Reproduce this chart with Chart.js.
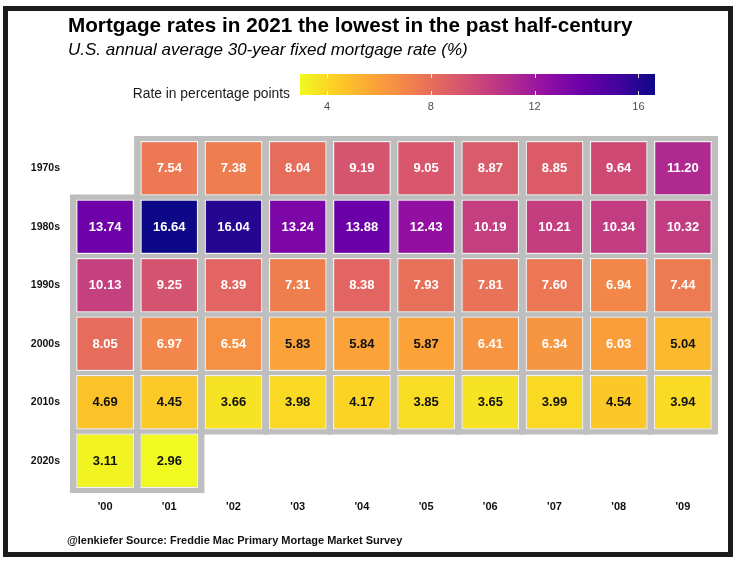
<!DOCTYPE html>
<html>
<head>
<meta charset="utf-8">
<title>Mortgage rates heatmap</title>
<script src="https://cdn.jsdelivr.net/npm/chart.js@4.4.1/dist/chart.umd.min.js"></script>
<style>
  html, body { margin: 0; padding: 0; background: #fff; }
  #wrap { position: absolute; left: 0; top: 0; width: 739px; height: 563px; overflow: hidden; }
  #frame { position: absolute; left: 3px; top: 6px; width: 720px; height: 541px; border: 5px solid #1c1c1c; }
  canvas { position: absolute; left: 0; top: 0; }
  .txt { position: absolute; font-family: "Liberation Sans", Arial, sans-serif; white-space: nowrap; line-height: 1; color: #000; }
  #title { left: 68px; top: 15px; font-size: 20.7px; font-weight: bold; }
  #subtitle { left: 68px; top: 41px; font-size: 17px; font-style: italic; }
  #caption { left: 67px; top: 535px; font-size: 11px; font-weight: bold; color: #111; }
</style>
</head>
<body>
<div id="wrap">
  <div id="frame"></div>
  <canvas id="heatChart" width="739" height="563"></canvas>
  <div class="txt" id="title">Mortgage rates in 2021 the lowest in the past half-century</div>
  <div class="txt" id="subtitle">U.S. annual average 30-year fixed mortgage rate (%)</div>
  <div class="txt" id="caption">@lenkiefer Source: Freddie Mac Primary Mortage Market Survey</div>
</div>
<script>
// Columns (year within decade) and rows (decades)
const years = ["'00", "'01", "'02", "'03", "'04", "'05", "'06", "'07", "'08", "'09"];
const decades = ['1970s', '1980s', '1990s', '2000s', '2010s', '2020s'];

// Annual average 30-year fixed rate, one array per decade
const rates1970s = [null, 7.54, 7.38, 8.04, 9.19, 9.05, 8.87, 8.85, 9.64, 11.20];
const rates1980s = [13.74, 16.64, 16.04, 13.24, 13.88, 12.43, 10.19, 10.21, 10.34, 10.32];
const rates1990s = [10.13, 9.25, 8.39, 7.31, 8.38, 7.93, 7.81, 7.60, 6.94, 7.44];
const rates2000s = [8.05, 6.97, 6.54, 5.83, 5.84, 5.87, 6.41, 6.34, 6.03, 5.04];
const rates2010s = [4.69, 4.45, 3.66, 3.98, 4.17, 3.85, 3.65, 3.99, 4.54, 3.94];
const rates2020s = [3.11, 2.96, null, null, null, null, null, null, null, null];

// Colour bar tick labels
const legendTicks = [4, 8, 12, 16];

const rateRows = [rates1970s, rates1980s, rates1990s, rates2000s, rates2010s, rates2020s];
const allRates = rateRows.flat().filter(v => v !== null);
const minRate = Math.min(...allRates);
const maxRate = Math.max(...allRates);

// plasma palette, reversed so low rates are yellow
const plasma = ['#0d0887', '#41049d', '#6a00a8', '#8f0da4', '#b12a90', '#cc4778',
                '#e16462', '#f2844b', '#fca636', '#fcce25', '#f0f921'];

function hexToRgb(h) {
    return [parseInt(h.slice(1, 3), 16), parseInt(h.slice(3, 5), 16), parseInt(h.slice(5, 7), 16)];
}

function rateColor(v) {
    const t = 1 - (v - minRate) / (maxRate - minRate);
    const pos = Math.max(0, Math.min(1, t)) * (plasma.length - 1);
    const i = Math.min(Math.floor(pos), plasma.length - 2);
    const f = pos - i;
    const a = hexToRgb(plasma[i]);
    const b = hexToRgb(plasma[i + 1]);
    const c = a.map((x, k) => Math.round(x + (b[k] - x) * f));
    return `rgb(${c[0]},${c[1]},${c[2]})`;
}

// Build one grey backing dataset and one coloured dataset per decade
const datasets = [];
rateRows.forEach((row, r) => {
    datasets.push({
        label: decades[r] + ' tiles',
        data: row.map(v => v === null ? null : [r - 0.552, r + 0.552]),
        backgroundColor: '#bebebe',
        borderWidth: 0,
        barPercentage: 1.095,
        categoryPercentage: 1,
        grouped: false,
        clip: false,
        order: 2
    });
    datasets.push({
        label: decades[r],
        data: row.map(v => v === null ? null : [r - 0.466, r + 0.466]),
        rates: row,
        backgroundColor: row.map(v => v === null ? 'rgba(0,0,0,0)' : rateColor(v)),
        borderColor: '#f3f3f3',
        borderWidth: 1.3,
        borderSkipped: false,
        barPercentage: 0.9,
        categoryPercentage: 1,
        grouped: false,
        order: 1
    });
});

// Writes the rate in the middle of each tile
const cellLabels = {
    id: 'cellLabels',
    afterDatasetsDraw(chart) {
        const ctx = chart.ctx;
        ctx.save();
        ctx.font = 'bold 13px "Liberation Sans", Arial, sans-serif';
        ctx.textAlign = 'center';
        ctx.textBaseline = 'middle';
        chart.data.datasets.forEach((ds, di) => {
            if (!ds.rates) return;
            const meta = chart.getDatasetMeta(di);
            meta.data.forEach((bar, i) => {
                const v = ds.rates[i];
                if (v === null || v === undefined) return;
                ctx.fillStyle = v >= 6 ? '#ffffff' : '#111111';
                ctx.fillText(v.toFixed(2), bar.x, (bar.y + bar.base) / 2 + 0.5);
            });
        });
        ctx.restore();
    }
};

// Colour bar legend at the top
const colorBar = {
    id: 'colorBar',
    afterDraw(chart) {
        const ctx = chart.ctx;
        const x0 = 300, x1 = 655, y0 = 74, y1 = 95;
        const xOf = v => x0 + (v - minRate) / (maxRate - minRate) * (x1 - x0);
        ctx.save();
        const grad = ctx.createLinearGradient(x0, 0, x1, 0);
        for (let k = 0; k <= 40; k++) {
            const v = minRate + (maxRate - minRate) * k / 40;
            grad.addColorStop(k / 40, rateColor(v));
        }
        ctx.fillStyle = grad;
        ctx.fillRect(x0, y0, x1 - x0, y1 - y0);

        ctx.strokeStyle = 'rgba(255,255,255,0.85)';
        ctx.lineWidth = 1;
        legendTicks.forEach(t => {
            const x = Math.round(xOf(t)) + 0.5;
            ctx.beginPath();
            ctx.moveTo(x, y0); ctx.lineTo(x, y0 + 4);
            ctx.moveTo(x, y1 - 4); ctx.lineTo(x, y1);
            ctx.stroke();
        });

        ctx.fillStyle = '#4d4d4d';
        ctx.font = '11px "Liberation Sans", Arial, sans-serif';
        ctx.textAlign = 'center';
        ctx.textBaseline = 'middle';
        legendTicks.forEach(t => ctx.fillText(String(t), xOf(t), 107));

        ctx.fillStyle = '#1a1a1a';
        ctx.font = '13.8px "Liberation Sans", Arial, sans-serif';
        ctx.textAlign = 'right';
        ctx.textBaseline = 'alphabetic';
        ctx.fillText('Rate in percentage points', 290, 98);
        ctx.restore();
    }
};

const chartConfig = {
    type: 'bar',
    data: { labels: years, datasets: datasets },
    options: {
        responsive: false,
        animation: false,
        layout: { padding: { left: 23, right: 24, top: 139, bottom: 43 } },
        plugins: {
            legend: { display: false },
            tooltip: { enabled: false },
            title: { display: false }
        },
        scales: {
            x: {
                grid: { display: false },
                border: { display: false },
                ticks: {
                    color: '#111',
                    padding: 2,
                    font: { family: '"Liberation Sans", Arial, sans-serif', size: 11, weight: 'bold' }
                },
                afterFit: scale => { scale.height = 30; }
            },
            y: {
                type: 'linear',
                min: -0.5,
                max: 5.5,
                reverse: true,
                grid: { display: false },
                border: { display: false },
                afterBuildTicks: scale => { scale.ticks = decades.map((d, i) => ({ value: i })); },
                ticks: {
                    color: '#111',
                    padding: 5,
                    callback: v => decades[v],
                    font: { family: '"Liberation Sans", Arial, sans-serif', size: 10.5, weight: 'bold' }
                },
                afterFit: scale => { scale.width = 50; }
            }
        }
    },
    plugins: [cellLabels, colorBar]
};

const ctx = document.getElementById('heatChart').getContext('2d');
new Chart(ctx, chartConfig);
</script>
</body>
</html>
